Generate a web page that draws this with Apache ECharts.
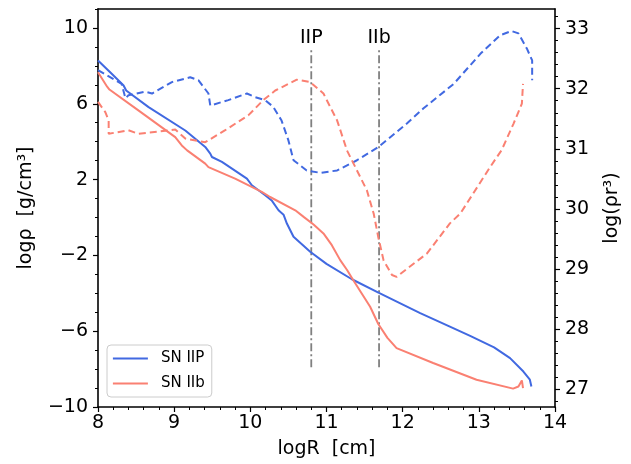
<!DOCTYPE html>
<html>
<head>
<meta charset="utf-8">
<script src="https://cdn.jsdelivr.net/npm/echarts@6/dist/echarts.min.js"></script>
<style>html,body{margin:0;padding:0;background:#fff}#c{width:631px;height:464px}</style>
</head>
<body>
<div id="c"></div>
<script>
// ---- data ----
const seriesNames = ['SN IIP', 'SN IIb'];
// log rho (left axis) vs logR
const iipRho = [[8.00,8.28],[8.20,7.50],[8.336,6.96],[8.37,6.70],[8.664,5.82],[9.146,4.59],[9.408,3.72],[9.474,3.37],[9.496,3.19],[9.627,2.93],[9.955,2.05],[10.02,1.70],[10.195,1.17],[10.28,0.90],[10.37,0.38],[10.436,0.15],[10.48,-0.32],[10.567,-1.02],[10.786,-1.81],[11.0,-2.45],[11.333,-3.26],[11.682,-3.97],[12.23,-5.05],[12.62,-5.76],[12.886,-6.25],[13.2,-6.85],[13.41,-7.42],[13.585,-8.13],[13.67,-8.56],[13.69,-8.92]];
const iibRho = [[8.00,7.66],[8.12,6.90],[8.15,6.75],[8.53,5.65],[9.014,4.24],[9.10,3.80],[9.17,3.54],[9.408,2.84],[9.45,2.66],[9.80,2.05],[10.15,1.35],[10.26,1.08],[10.59,0.38],[10.70,0.03],[10.83,-0.37],[10.96,-0.84],[11.07,-1.46],[11.18,-2.25],[11.27,-2.77],[11.35,-3.30],[11.573,-4.71],[11.68,-5.62],[11.80,-6.35],[11.92,-6.89],[12.40,-7.68],[12.97,-8.56],[13.45,-9.03],[13.52,-8.92],[13.565,-8.60],[13.58,-9.00]];
// log(rho r^3) (right axis) vs logR
const iipRhoR3 = [[8.00,32.31],[8.31,32.08],[8.36,31.84],[8.40,31.89],[8.62,31.95],[8.71,31.92],[8.97,32.11],[9.21,32.19],[9.32,32.14],[9.45,31.92],[9.474,31.72],[9.71,31.81],[9.955,31.92],[10.064,31.86],[10.195,31.81],[10.30,31.70],[10.41,31.47],[10.50,31.14],[10.567,30.81],[10.74,30.64],[10.92,30.60],[11.14,30.64],[11.40,30.81],[11.68,31.03],[12.055,31.42],[12.27,31.67],[12.67,32.08],[13.02,32.58],[13.28,32.89],[13.43,32.96],[13.52,32.92],[13.63,32.67],[13.70,32.47],[13.70,32.14]];
const iibRhoR3 = [[8.00,31.78],[8.096,31.61],[8.14,31.47],[8.14,31.25],[8.40,31.31],[8.53,31.25],[9.014,31.32],[9.146,31.17],[9.408,31.11],[9.67,31.31],[9.976,31.56],[10.17,31.81],[10.327,31.97],[10.61,32.15],[10.786,32.11],[10.96,31.92],[11.14,31.47],[11.27,30.97],[11.40,30.64],[11.53,30.31],[11.62,29.92],[11.68,29.53],[11.75,29.14],[11.86,28.90],[11.92,28.87],[12.32,29.26],[12.62,29.76],[12.755,29.92],[13.15,30.70],[13.30,30.98],[13.456,31.42],[13.565,31.75],[13.58,32.08]];
// vertical marker lines
const vlineLabels = ['IIP', 'IIb'];
const vlineX = [10.8, 11.69];
const vlineY = [-7.9, 8.9];
// ticks
const xRange = [8, 14];
const leftRange = [-10, 11];
const leftMajor = [-10, -6, -2, 2, 6, 10];
const leftMinor = [-9,-8,-7,-5,-4,-3,-1,0,1,3,4,5,7,8,9,11];
const rightRange = [26.705, 33.326];
const rightMajor = [27, 28, 29, 30, 31, 32, 33];

const rightMinor = [];
for (let k = 134; k <= 166; k++) { const v = k / 5; if (k % 5 !== 0 && v >= rightRange[0] && v <= rightRange[1]) rightMinor.push(+v.toFixed(1)); }

const FONT = 'DejaVu Sans';
const BLUE = '#4169E1', RED = '#FA8072', GREY = '#808080';
const minus = v => (v < 0 ? '\u2212' + (-v) : String(v));

const axisLineStyle = { show: true, onZero: false, lineStyle: { color: '#000', width: 1.6 } };

const vlineSeries = vlineX.map((x) => ({
  type: 'line', xAxisIndex: 0, yAxisIndex: 0, symbol: 'none', silent: true,
  lineStyle: { color: GREY, width: 1.8, type: [8, 3, 2, 3] },
  data: [[x, vlineY[0]], [x, vlineY[1]]],
  z: 3
}));
const vlabelSeries = {
  type: 'scatter', xAxisIndex: 0, yAxisIndex: 0, symbolSize: 0, silent: true,
  itemStyle: { color: '#000', opacity: 1 },
  data: vlineX.map((x, i) => ({ value: [x, vlineY[1]], name: vlineLabels[i] })),
  label: { show: true, position: 'top', distance: 1, formatter: p => p.name, fontFamily: FONT, fontSize: 19, color: '#000', opacity: 1 },
  emphasis: { disabled: true },
  z: 5
};

const option = {
  animation: false,
  backgroundColor: '#fff',
  grid: { left: 98, right: 76, top: 9, bottom: 57, containLabel: false },
  legend: {
    data: seriesNames,
    orient: 'vertical',
    left: 107, top: 345,
    itemWidth: 35, itemHeight: 14, itemGap: 10,
    padding: [6, 7, 6, 5],
    borderColor: '#cccccc', borderWidth: 1, borderRadius: 4,
    backgroundColor: 'rgba(255,255,255,0.8)',
    itemStyle: { opacity: 0, borderWidth: 0 },
    lineStyle: { width: 1.8 },
    textStyle: { fontFamily: FONT, fontSize: 15, color: '#000', padding: [0, 0, 0, 8] }
  },
  xAxis: [
    {
      type: 'value', min: xRange[0], max: xRange[1], interval: 1, position: 'bottom',
      name: 'logR  [cm]', nameLocation: 'middle', nameGap: 33,
      nameTextStyle: { fontFamily: FONT, fontSize: 19, color: '#000' },
      axisLine: axisLineStyle,
      axisTick: { show: true, length: 5, lineStyle: { color: '#000', width: 1.2 } },
      minorTick: { show: true, splitNumber: 5, length: 3, lineStyle: { color: '#000', width: 1 } },
      axisLabel: { fontFamily: FONT, fontSize: 19, color: '#000', margin: 7 },
      splitLine: { show: false }
    },
    {
      type: 'value', min: xRange[0], max: xRange[1], position: 'top',
      axisLine: axisLineStyle, axisTick: { show: false }, axisLabel: { show: false }, splitLine: { show: false }
    }
  ],
  yAxis: [
    {
      type: 'value', min: leftRange[0], max: leftRange[1], position: 'left',
      name: 'log\u03C1  [g/cm\u00B3]', nameLocation: 'middle', nameGap: 62, nameRotate: 90,
      nameTextStyle: { fontFamily: FONT, fontSize: 19, color: '#000' },
      axisLine: axisLineStyle,
      axisTick: { show: true, length: 5, customValues: leftMajor, lineStyle: { color: '#000', width: 1.2 } },
      axisLabel: { fontFamily: FONT, fontSize: 19, color: '#000', margin: 10, customValues: leftMajor, formatter: minus },
      splitLine: { show: false }
    },
    {
      type: 'value', min: rightRange[0], max: rightRange[1], position: 'right',
      name: 'log(\u03C1r\u00B3)', nameLocation: 'middle', nameGap: 48, nameRotate: 90,
      nameTextStyle: { fontFamily: FONT, fontSize: 19, color: '#000' },
      axisLine: axisLineStyle,
      axisTick: { show: true, length: 5, customValues: rightMajor, lineStyle: { color: '#000', width: 1.2 } },
      axisLabel: { fontFamily: FONT, fontSize: 19, color: '#000', margin: 10, customValues: rightMajor },
      splitLine: { show: false }
    },
    {
      type: 'value', min: leftRange[0], max: leftRange[1], position: 'left',
      axisLine: { show: false, onZero: false },
      axisTick: { show: true, length: 3, customValues: leftMinor, lineStyle: { color: '#000', width: 1 } },
      axisLabel: { show: false }, splitLine: { show: false }
    },
    {
      type: 'value', min: rightRange[0], max: rightRange[1], position: 'right',
      axisLine: { show: false, onZero: false },
      axisTick: { show: true, length: 3, customValues: rightMinor, lineStyle: { color: '#000', width: 1 } },
      axisLabel: { show: false }, splitLine: { show: false }
    }
  ],
  series: [
    { name: seriesNames[0], type: 'line', xAxisIndex: 0, yAxisIndex: 0, data: iipRho, symbol: 'none', lineStyle: { color: BLUE, width: 2 }, itemStyle: { color: BLUE }, z: 4 },
    { name: seriesNames[1], type: 'line', xAxisIndex: 0, yAxisIndex: 0, data: iibRho, symbol: 'none', lineStyle: { color: RED, width: 2 }, itemStyle: { color: RED }, z: 4 },
    { name: 'IIP r3', type: 'line', xAxisIndex: 0, yAxisIndex: 1, data: iipRhoR3, symbol: 'none', lineStyle: { color: BLUE, width: 2, type: [7, 4] }, z: 4 },
    { name: 'IIb r3', type: 'line', xAxisIndex: 0, yAxisIndex: 1, data: iibRhoR3, symbol: 'none', lineStyle: { color: RED, width: 2, type: [7, 4] }, z: 4 },
    ...vlineSeries,
    vlabelSeries
  ]
};

const chart = echarts.init(document.getElementById('c'), null, { renderer: 'canvas' });
chart.setOption(option);
</script>
</body>
</html>
